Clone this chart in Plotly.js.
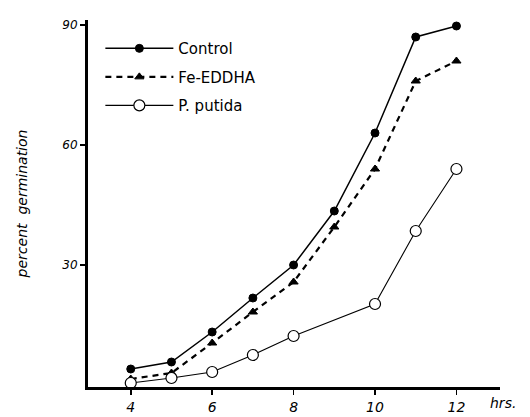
<!DOCTYPE html>
<html>
<head>
<meta charset="utf-8">
<script src="https://cdn.plot.ly/plotly-3.0.1.min.js"></script>
<style>html,body{margin:0;padding:0;background:#fff;}#chart{width:530px;height:417px;}</style>
</head>
<body>
<div id="chart"></div>
<script>
const hours = [4, 5, 6, 7, 8, 9, 10, 11, 12];
const control = [4, 5.75, 13.25, 21.75, 30, 43.5, 63, 87, 89.75];
const feEddha = [1.5, 3, 10.5, 18.25, 25.75, 39.5, 54, 76, 81];
const putidaHours = [4, 5, 6, 7, 8, 10, 11, 12];
const putida = [0.5, 1.75, 3.25, 7.5, 12.25, 20.25, 38.5, 54];
const seriesNames = ['Control', 'Fe-EDDHA', 'P. putida'];
const xTicks = [4, 6, 8, 10, 12];
const yTicks = [30, 60, 90];

const fontFam = '"DejaVu Sans", "Liberation Sans", sans-serif';

const traces = [
  {
    x: hours, y: control, name: seriesNames[0], type: 'scatter', mode: 'lines+markers',
    line: {color: '#000', width: 1.5},
    marker: {symbol: 'circle', size: 8, color: '#000', line: {color: '#000', width: 1}},
    legendgroup: 'a'
  },
  {
    x: hours, y: feEddha, name: seriesNames[1], type: 'scatter', mode: 'lines+markers',
    line: {color: '#000', width: 2.2, dash: '6px,5px'},
    marker: {symbol: 'triangle-up', size: 8, color: '#000', line: {color: '#000', width: 1}},
    legendgroup: 'b'
  },
  {
    x: putidaHours, y: putida, name: seriesNames[2], type: 'scatter', mode: 'lines+markers',
    line: {color: '#000', width: 1.1},
    marker: {symbol: 'circle', size: 11, color: '#fff', line: {color: '#000', width: 1.2}},
    legendgroup: 'c'
  }
];

const layout = {
  width: 530, height: 417,
  margin: {l: 88, r: 30, t: 20, b: 30},
  paper_bgcolor: '#fff', plot_bgcolor: '#fff',
  showlegend: true,
  legend: {
    x: 0.03, y: 0.967, xanchor: 'left', yanchor: 'top',
    font: {family: fontFam, size: 15, color: '#000'},
    bgcolor: 'rgba(0,0,0,0)', tracegroupgap: 6, itemwidth: 68
  },
  xaxis: {
    range: [2.95, 13.07], tickvals: xTicks, ticktext: xTicks.map(String),
    showgrid: false, zeroline: false, showline: true, linecolor: '#000', linewidth: 3,
    ticks: 'outside', ticklen: 5, tickwidth: 1.5, tickcolor: '#000',
    tickfont: {family: fontFam, size: 14, color: '#000', style: 'italic'}
  },
  yaxis: {
    range: [-0.5, 91.25], tickvals: yTicks, ticktext: yTicks.map(String),
    showgrid: false, zeroline: false, showline: true, linecolor: '#000', linewidth: 3,
    ticks: 'outside', ticklen: 5, tickwidth: 1.5, tickcolor: '#000',
    tickfont: {family: fontFam, size: 12, color: '#000', style: 'italic'},
    title: {text: 'percent  germination', standoff: 32,
      font: {family: fontFam, size: 14, color: '#000', style: 'italic'}}
  },
  annotations: [
    {xref: 'paper', yref: 'paper', x: 1.0, y: 0, xanchor: 'left', yanchor: 'top', yshift: -6, xshift: -12,
     text: 'hrs.', showarrow: false, font: {family: fontFam, size: 14, color: '#000', style: 'italic'}}
  ]
};

Plotly.newPlot('chart', traces, layout, {displayModeBar: false, staticPlot: true});
</script>
</body>
</html>
